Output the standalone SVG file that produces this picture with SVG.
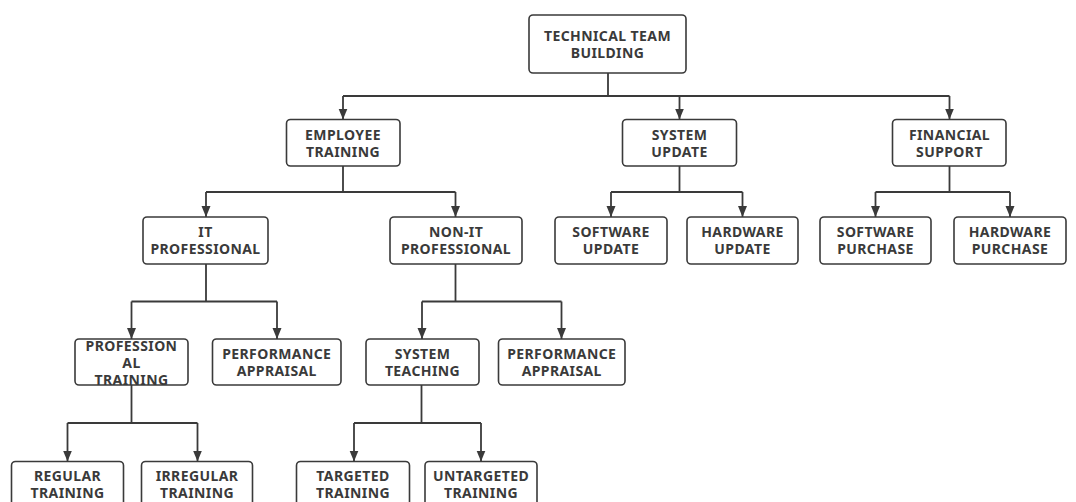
<svg xmlns="http://www.w3.org/2000/svg" width="1076" height="502" viewBox="0 0 1076 502">
  <style>
    .box { fill: #ffffff; stroke: #3a3a3a; stroke-width: 1.6; }
    .lbl { font-family: "Noto Sans", "Open Sans", sans-serif; font-weight: 700; font-size: 14px; letter-spacing: 0.4px; fill: #3a3a3a; text-anchor: middle; }
    .wire { fill: none; stroke: #3a3a3a; stroke-width: 1.8; }
    .drop { fill: none; stroke: #3a3a3a; stroke-width: 1.8; marker-end: url(#arrow); }
  </style>
  <defs>
    <marker id="arrow" markerUnits="userSpaceOnUse" markerWidth="12" markerHeight="10" refX="11" refY="4.5" orient="auto">
      <path d="M0,0 L11,4.5 L0,9 z" fill="#3a3a3a"/>
    </marker>
  </defs>
  <rect width="1076" height="502" fill="#ffffff"/>

  <!-- connectors -->
  <g id="connectors">
    <!-- root to level 1 -->
    <path class="wire" d="M608,73 V96 M343,96 H949.5"/>
    <path class="drop" d="M343,96 V119.5"/>
    <path class="drop" d="M679.5,96 V119.5"/>
    <path class="drop" d="M949.5,96 V119.5"/>
    <!-- employee training -->
    <path class="wire" d="M343,166 V192 M206,192 H455.5"/>
    <path class="drop" d="M206,192 V217"/>
    <path class="drop" d="M455.5,192 V217"/>
    <!-- system update -->
    <path class="wire" d="M679.5,166 V192 M611,192 H742.5"/>
    <path class="drop" d="M611,192 V217"/>
    <path class="drop" d="M742.5,192 V217"/>
    <!-- financial support -->
    <path class="wire" d="M949.5,166 V192 M875.5,192 H1010"/>
    <path class="drop" d="M875.5,192 V217"/>
    <path class="drop" d="M1010,192 V217"/>
    <!-- IT professional -->
    <path class="wire" d="M206,264 V301.5 M131.5,301.5 H277"/>
    <path class="drop" d="M131.5,301.5 V339"/>
    <path class="drop" d="M277,301.5 V339"/>
    <!-- non-IT professional -->
    <path class="wire" d="M455.5,264 V301.5 M422,301.5 H561.5"/>
    <path class="drop" d="M422,301.5 V339"/>
    <path class="drop" d="M561.5,301.5 V339"/>
    <!-- professional training -->
    <path class="wire" d="M131.5,385 V423 M67.5,423 H197.5"/>
    <path class="drop" d="M67.5,423 V461.5"/>
    <path class="drop" d="M197.5,423 V461.5"/>
    <!-- system teaching -->
    <path class="wire" d="M421.5,385 V423 M354,423 H481"/>
    <path class="drop" d="M354,423 V461.5"/>
    <path class="drop" d="M481,423 V461.5"/>
  </g>

  <!-- level 0 -->
  <g id="technical-team-building">
    <rect class="box" x="529" y="15" width="157" height="58" rx="4"/>
    <text class="lbl" x="607.5" y="40.5">TECHNICAL TEAM</text>
    <text class="lbl" x="607.5" y="57.5">BUILDING</text>
  </g>

  <!-- level 1 -->
  <g id="employee-training">
    <rect class="box" x="286.5" y="119.5" width="113.5" height="46.5" rx="4"/>
    <text class="lbl" x="343" y="139.5">EMPLOYEE</text>
    <text class="lbl" x="343" y="156.5">TRAINING</text>
  </g>
  <g id="system-update">
    <rect class="box" x="622.5" y="119.5" width="114" height="46.5" rx="4"/>
    <text class="lbl" x="679.5" y="139.5">SYSTEM</text>
    <text class="lbl" x="679.5" y="156.5">UPDATE</text>
  </g>
  <g id="financial-support">
    <rect class="box" x="892.5" y="119.5" width="113.5" height="46.5" rx="4"/>
    <text class="lbl" x="949.5" y="139.5">FINANCIAL</text>
    <text class="lbl" x="949.5" y="156.5">SUPPORT</text>
  </g>

  <!-- level 2 -->
  <g id="it-professional">
    <rect class="box" x="143" y="217" width="125" height="47" rx="4"/>
    <text class="lbl" x="205.5" y="237">IT</text>
    <text class="lbl" x="205.5" y="254">PROFESSIONAL</text>
  </g>
  <g id="non-it-professional">
    <rect class="box" x="390" y="217" width="132" height="47" rx="4"/>
    <text class="lbl" x="456" y="237">NON-IT</text>
    <text class="lbl" x="456" y="254">PROFESSIONAL</text>
  </g>
  <g id="software-update">
    <rect class="box" x="555" y="217" width="112" height="47" rx="4"/>
    <text class="lbl" x="611" y="237">SOFTWARE</text>
    <text class="lbl" x="611" y="254">UPDATE</text>
  </g>
  <g id="hardware-update">
    <rect class="box" x="687" y="217" width="111" height="47" rx="4"/>
    <text class="lbl" x="742.5" y="237">HARDWARE</text>
    <text class="lbl" x="742.5" y="254">UPDATE</text>
  </g>
  <g id="software-purchase">
    <rect class="box" x="820" y="217" width="111" height="47" rx="4"/>
    <text class="lbl" x="875.5" y="237">SOFTWARE</text>
    <text class="lbl" x="875.5" y="254">PURCHASE</text>
  </g>
  <g id="hardware-purchase">
    <rect class="box" x="954" y="217" width="112" height="47" rx="4"/>
    <text class="lbl" x="1010" y="237">HARDWARE</text>
    <text class="lbl" x="1010" y="254">PURCHASE</text>
  </g>

  <!-- level 3 -->
  <g id="professional-training">
    <rect class="box" x="75" y="339" width="113" height="46" rx="4"/>
    <text class="lbl" x="131.5" y="351">PROFESSION</text>
    <text class="lbl" x="131.5" y="368">AL</text>
    <text class="lbl" x="131.5" y="385">TRAINING</text>
  </g>
  <g id="it-performance-appraisal">
    <rect class="box" x="212.5" y="339" width="128.5" height="46" rx="4"/>
    <text class="lbl" x="276.75" y="358.5">PERFORMANCE</text>
    <text class="lbl" x="276.75" y="375.5">APPRAISAL</text>
  </g>
  <g id="system-teaching">
    <rect class="box" x="366" y="339" width="113" height="46" rx="4"/>
    <text class="lbl" x="422.5" y="358.5">SYSTEM</text>
    <text class="lbl" x="422.5" y="375.5">TEACHING</text>
  </g>
  <g id="non-it-performance-appraisal">
    <rect class="box" x="498.5" y="339" width="126.5" height="46" rx="4"/>
    <text class="lbl" x="561.75" y="358.5">PERFORMANCE</text>
    <text class="lbl" x="561.75" y="375.5">APPRAISAL</text>
  </g>

  <!-- level 4 -->
  <g id="regular-training">
    <rect class="box" x="11.5" y="461.5" width="112" height="46" rx="4"/>
    <text class="lbl" x="67.5" y="481">REGULAR</text>
    <text class="lbl" x="67.5" y="498">TRAINING</text>
  </g>
  <g id="irregular-training">
    <rect class="box" x="141.5" y="461.5" width="111" height="46" rx="4"/>
    <text class="lbl" x="197" y="481">IRREGULAR</text>
    <text class="lbl" x="197" y="498">TRAINING</text>
  </g>
  <g id="targeted-training">
    <rect class="box" x="296.5" y="461.5" width="113" height="46" rx="4"/>
    <text class="lbl" x="353" y="481">TARGETED</text>
    <text class="lbl" x="353" y="498">TRAINING</text>
  </g>
  <g id="untargeted-training">
    <rect class="box" x="425" y="461.5" width="112" height="46" rx="4"/>
    <text class="lbl" x="481" y="481">UNTARGETED</text>
    <text class="lbl" x="481" y="498">TRAINING</text>
  </g>
</svg>
